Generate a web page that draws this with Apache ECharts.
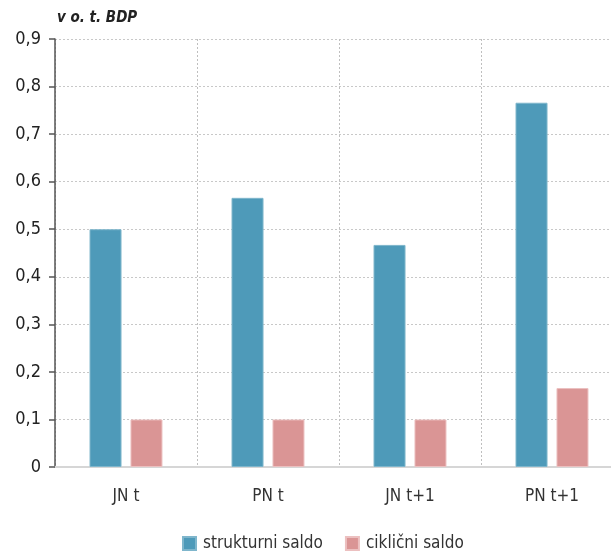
<!DOCTYPE html>
<html>
<head>
<meta charset="utf-8">
<script src="https://cdn.jsdelivr.net/npm/echarts@6/dist/echarts.min.js"></script>
<style>
  html, body { margin: 0; padding: 0; background: #fff; }
  #chart { width: 611px; height: 551px; }
</style>
</head>
<body>
<div id="chart"></div>
<script>
// Saldo po kategorijah (v odstotkih BDP)
const categories = ['JN t', 'PN t', 'JN t+1', 'PN t+1'];
const strukturniSaldo = [0.5, 0.566, 0.467, 0.766];
const ciklicniSaldo = [0.1, 0.1, 0.1, 0.166];
const seriesNames = ['strukturni saldo', 'ciklični saldo'];
const unitLabel = 'v o. t. BDP';

const FONT = '"DejaVu Sans Condensed", "Liberation Sans Narrow", sans-serif';

const chart = echarts.init(document.getElementById('chart'), null, { renderer: 'canvas' });

chart.setOption({
  animation: false,
  textStyle: { fontFamily: FONT },
  graphic: [{
    type: 'text',
    left: 57,
    top: 11,
    style: {
      text: unitLabel,
      font: 'italic bold 15px ' + FONT,
      fill: '#222'
    }
  }],
  grid: {
    left: 55, top: 39, width: 568, bottom: 84,
    containLabel: false,
    outerBoundsMode: 'none'
  },
  legend: {
    top: 530,
    left: 177,
    itemWidth: 13,
    itemHeight: 13,
    itemGap: 22,
    icon: 'rect',
    textStyle: { fontFamily: FONT, fontSize: 17, color: '#333', padding: [0, 0, 0, 2] },
    data: seriesNames
  },
  xAxis: {
    type: 'category',
    data: categories,
    axisLine: { show: true, lineStyle: { color: '#d6d6d6', width: 2 } },
    axisTick: { show: false },
    axisLabel: { fontFamily: FONT, fontSize: 17, color: '#333', margin: 21 },
    splitLine: { show: true, lineStyle: { color: '#bfbfbf', type: [2, 2], width: 1 } }
  },
  yAxis: {
    type: 'value',
    min: 0,
    max: 0.9,
    interval: 0.1,
    axisLine: { show: true, lineStyle: { color: '#555', width: 1.5 } },
    axisTick: { show: true, length: 6, lineStyle: { color: '#555', width: 1.5 } },
    axisLabel: {
      fontFamily: FONT, fontSize: 18, color: '#222', margin: 14,
      formatter: v => (Math.round(v * 10) / 10).toString().replace('.', ',')
    },
    splitLine: { show: true, lineStyle: { color: '#c8c8c8', type: [2, 2], width: 1 } }
  },
  series: [
    {
      name: seriesNames[0],
      type: 'bar',
      data: strukturniSaldo,
      barWidth: 32,
      barGap: '28%',
      itemStyle: { color: '#4e9ab9', borderColor: '#7fb6cc', borderWidth: 1 }
    },
    {
      name: seriesNames[1],
      type: 'bar',
      data: ciklicniSaldo,
      barWidth: 32,
      itemStyle: { color: '#da9595', borderColor: '#ecc0c0', borderWidth: 1 }
    }
  ]
});
</script>
</body>
</html>
